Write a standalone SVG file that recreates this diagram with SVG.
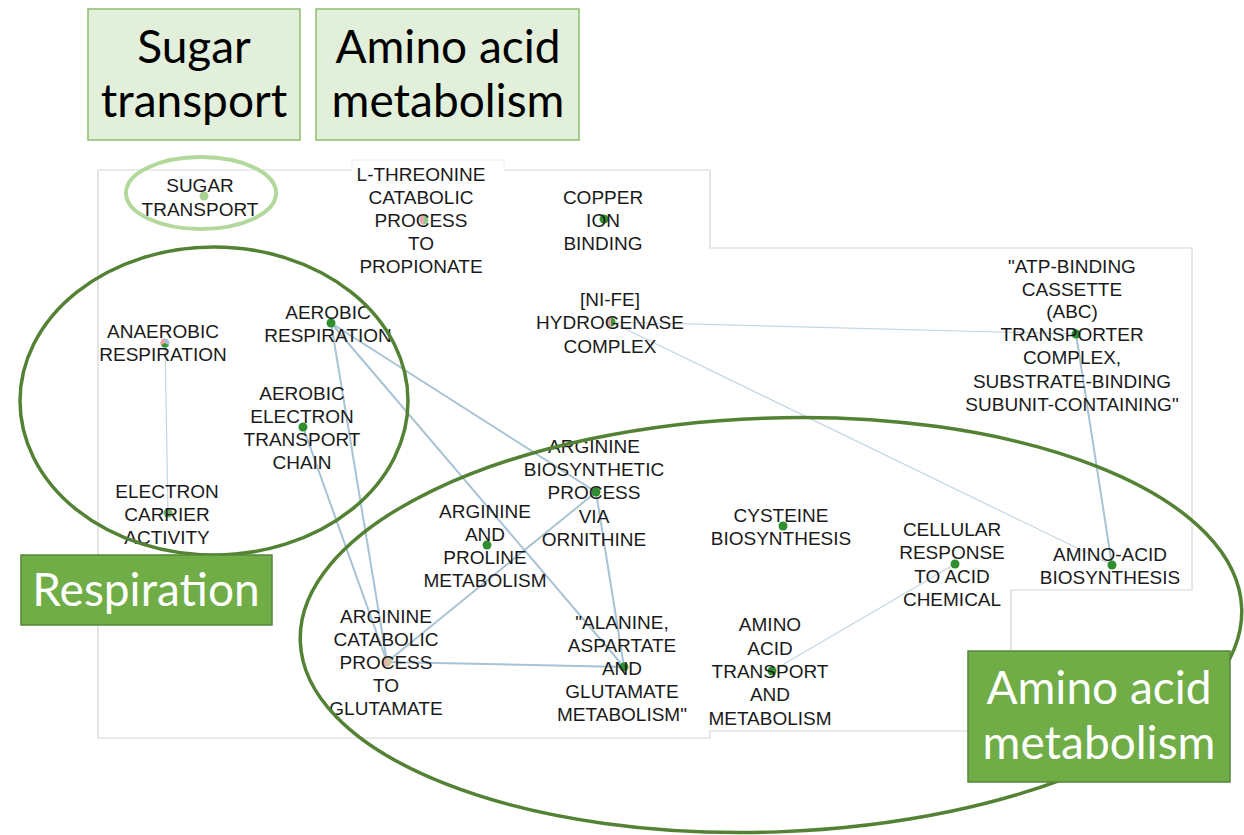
<svg xmlns="http://www.w3.org/2000/svg" width="1244" height="835" viewBox="0 0 1244 835">
<style>
.panel{fill:none;stroke:#d6d6d6;stroke-width:1.2}
.faint{fill:none;stroke:#ececec;stroke-width:1}
.e{stroke:#a7c3d4;stroke-width:2;fill:none;stroke-linecap:round}
.et{stroke:#c3d6e2;stroke-width:1.2;fill:none}
.lbl{font-family:"Liberation Sans",Arial,sans-serif;font-size:19px;fill:#1a1a1a;text-anchor:middle}
.dot{fill:#2f8f2f}
.big{font-family:Lato,"Open Sans",sans-serif;font-size:46px;text-anchor:middle}
.lightbox{fill:#e2efda;stroke:#8cbd6c;stroke-width:1.5}
.darkbox{fill:#70ad47;stroke:#56873a;stroke-width:1.5}
</style>
<rect width="1244" height="835" fill="#ffffff"/>
<g id="panel">
<path class="panel" d="M352,170 H98 V738 H710 V731 H968 M1011,650 V590 H1192 V248 H710 V170 H504"/>
<path class="faint" d="M352,170 V160 H504 V170"/>
</g>
<g id="connectors">
<line class="et" x1="165" y1="343" x2="168" y2="513"/>
<line class="e" x1="331" y1="323" x2="596" y2="492"/>
<line class="e" x1="331" y1="323" x2="624" y2="667"/>
<line class="e" x1="331" y1="323" x2="387" y2="662"/>
<line class="e" x1="303" y1="427" x2="387" y2="662"/>
<line class="e" x1="596" y1="492" x2="387" y2="662"/>
<line class="e" x1="596" y1="492" x2="624" y2="667"/>
<line class="e" x1="387" y1="662" x2="624" y2="667"/>
<line class="et" x1="611" y1="322" x2="1076" y2="334"/>
<line class="et" x1="611" y1="322" x2="1112" y2="565"/>
<line class="e" x1="1076" y1="334" x2="1112" y2="565"/>
<line class="et" x1="955" y1="564" x2="772" y2="671"/>
</g>
<g id="n-sugar-transport"><circle cx="204" cy="196" r="4.5" fill="#a9d18e"/>
<text class="lbl"><tspan x="200" y="192">SUGAR</tspan><tspan x="200" y="216">TRANSPORT</tspan></text></g>
<g id="n-l-threonine"><circle cx="424" cy="220" r="4.5" fill="#8fc98f"/><path d="M424,215.5 A4.5,4.5 0 0,0 424,224.5 Z" fill="#f0a8a8"/>
<text class="lbl"><tspan x="421" y="181">L-THREONINE</tspan><tspan x="421" y="204">CATABOLIC</tspan><tspan x="421" y="227">PROCESS</tspan><tspan x="421" y="250">TO</tspan><tspan x="421" y="273">PROPIONATE</tspan></text></g>
<g id="n-copper"><circle class="dot" cx="604" cy="219" r="4.5"/>
<text class="lbl"><tspan x="603" y="204">COPPER</tspan><tspan x="603" y="227">ION</tspan><tspan x="603" y="250">BINDING</tspan></text></g>
<g id="n-nife"><circle cx="611" cy="322" r="4.5" fill="#3a9a3a"/><path d="M611,317.5 A4.5,4.5 0 0,0 611,326.5 Z" fill="#f0a8a8"/>
<text class="lbl"><tspan x="610" y="306">[NI-FE]</tspan><tspan x="610" y="329">HYDROGENASE</tspan><tspan x="610" y="353">COMPLEX</tspan></text></g>
<g id="n-abc"><circle class="dot" cx="1076" cy="334" r="4.5"/>
<text class="lbl"><tspan x="1072" y="273">"ATP-BINDING</tspan><tspan x="1072" y="296">CASSETTE</tspan><tspan x="1072" y="318">(ABC)</tspan><tspan x="1072" y="341">TRANSPORTER</tspan><tspan x="1072" y="364">COMPLEX,</tspan><tspan x="1072" y="388">SUBSTRATE-BINDING</tspan><tspan x="1072" y="411">SUBUNIT-CONTAINING"</tspan></text></g>
<g id="n-anaerobic"><circle cx="165" cy="343" r="4.5" fill="#9fc3dc"/><path d="M165,343 L165,338.5 A4.5,4.5 0 0,0 161,345.3 Z" fill="#f0a0a0"/><path d="M165,343 L161,345.3 A4.5,4.5 0 0,0 169,345.3 Z" fill="#3a9a3a"/>
<text class="lbl"><tspan x="163" y="338">ANAEROBIC</tspan><tspan x="163" y="361">RESPIRATION</tspan></text></g>
<g id="n-aerobic-resp"><circle class="dot" cx="331" cy="323" r="4.5"/>
<text class="lbl"><tspan x="328" y="319">AEROBIC</tspan><tspan x="328" y="342">RESPIRATION</tspan></text></g>
<g id="n-aerobic-etc"><circle class="dot" cx="303" cy="427" r="4.5"/>
<text class="lbl"><tspan x="302" y="400">AEROBIC</tspan><tspan x="302" y="423">ELECTRON</tspan><tspan x="302" y="446">TRANSPORT</tspan><tspan x="302" y="469">CHAIN</tspan></text></g>
<g id="n-electron-carrier"><circle cx="168" cy="513" r="4.5" fill="#6fb06f"/>
<text class="lbl"><tspan x="167" y="498">ELECTRON</tspan><tspan x="167" y="521">CARRIER</tspan><tspan x="167" y="544">ACTIVITY</tspan></text></g>
<g id="n-arg-biosynthetic"><circle class="dot" cx="596" cy="492" r="4.5"/>
<text class="lbl"><tspan x="594" y="453">ARGININE</tspan><tspan x="594" y="476">BIOSYNTHETIC</tspan><tspan x="594" y="499">PROCESS</tspan><tspan x="594" y="523">VIA</tspan><tspan x="594" y="546">ORNITHINE</tspan></text></g>
<g id="n-arg-proline"><circle class="dot" cx="487" cy="545" r="4.5"/>
<text class="lbl"><tspan x="485" y="518">ARGININE</tspan><tspan x="485" y="541">AND</tspan><tspan x="485" y="564">PROLINE</tspan><tspan x="485" y="587">METABOLISM</tspan></text></g>
<g id="n-cysteine"><circle class="dot" cx="783" cy="526" r="4.5"/>
<text class="lbl"><tspan x="781" y="522">CYSTEINE</tspan><tspan x="781" y="545">BIOSYNTHESIS</tspan></text></g>
<g id="n-cellular-response"><circle class="dot" cx="955" cy="564" r="4.5"/>
<text class="lbl"><tspan x="952" y="536">CELLULAR</tspan><tspan x="952" y="559">RESPONSE</tspan><tspan x="952" y="583">TO ACID</tspan><tspan x="952" y="606">CHEMICAL</tspan></text></g>
<g id="n-amino-acid-biosynthesis"><circle class="dot" cx="1112" cy="565" r="4.5"/>
<text class="lbl"><tspan x="1110" y="561">AMINO-ACID</tspan><tspan x="1110" y="584">BIOSYNTHESIS</tspan></text></g>
<g id="n-arg-catabolic"><circle cx="387" cy="662" r="4.5" fill="#f2b0a0"/><path d="M387,657.5 A4.5,4.5 0 0,1 387,666.5 Z" fill="#c9c9a0"/>
<text class="lbl"><tspan x="386" y="623">ARGININE</tspan><tspan x="386" y="646">CATABOLIC</tspan><tspan x="386" y="669">PROCESS</tspan><tspan x="386" y="692">TO</tspan><tspan x="386" y="715">GLUTAMATE</tspan></text></g>
<g id="n-alanine"><circle class="dot" cx="624" cy="667" r="4.5"/>
<text class="lbl"><tspan x="622" y="629">"ALANINE,</tspan><tspan x="622" y="652">ASPARTATE</tspan><tspan x="622" y="675">AND</tspan><tspan x="622" y="698">GLUTAMATE</tspan><tspan x="622" y="721">METABOLISM"</tspan></text></g>
<g id="n-amino-transport"><circle class="dot" cx="772" cy="671" r="4.5"/>
<text class="lbl"><tspan x="770" y="631">AMINO</tspan><tspan x="770" y="655">ACID</tspan><tspan x="770" y="678">TRANSPORT</tspan><tspan x="770" y="701">AND</tspan><tspan x="770" y="725">METABOLISM</tspan></text></g>
<g id="clusters">
<ellipse cx="201" cy="193" rx="75" ry="36" fill="none" stroke="#b3d89b" stroke-width="4"/>
<ellipse cx="214" cy="401" rx="194" ry="154" fill="none" stroke="#548235" stroke-width="3.5"/>
<ellipse cx="771" cy="625" rx="471" ry="207" fill="none" stroke="#548235" stroke-width="3.5" transform="rotate(-2 771 625)"/>
</g>
<g id="label-sugar-transport"><rect class="lightbox" x="88" y="9" width="212" height="131"/>
<text class="big" fill="#000"><tspan x="194" y="63">Sugar</tspan><tspan x="194" y="117">transport</tspan></text></g>
<g id="label-amino-top"><rect class="lightbox" x="316" y="9" width="263" height="131"/>
<text class="big" fill="#000"><tspan x="448" y="63">Amino acid</tspan><tspan x="448" y="117">metabolism</tspan></text></g>
<g id="label-respiration"><rect class="darkbox" x="21" y="555" width="251" height="70"/>
<text class="big" fill="#fff"><tspan x="146" y="606">Respiration</tspan></text></g>
<g id="label-amino-bottom"><rect class="darkbox" x="968" y="651" width="262" height="131"/>
<text class="big" fill="#fff"><tspan x="1099" y="704">Amino acid</tspan><tspan x="1099" y="759">metabolism</tspan></text></g>
</svg>
